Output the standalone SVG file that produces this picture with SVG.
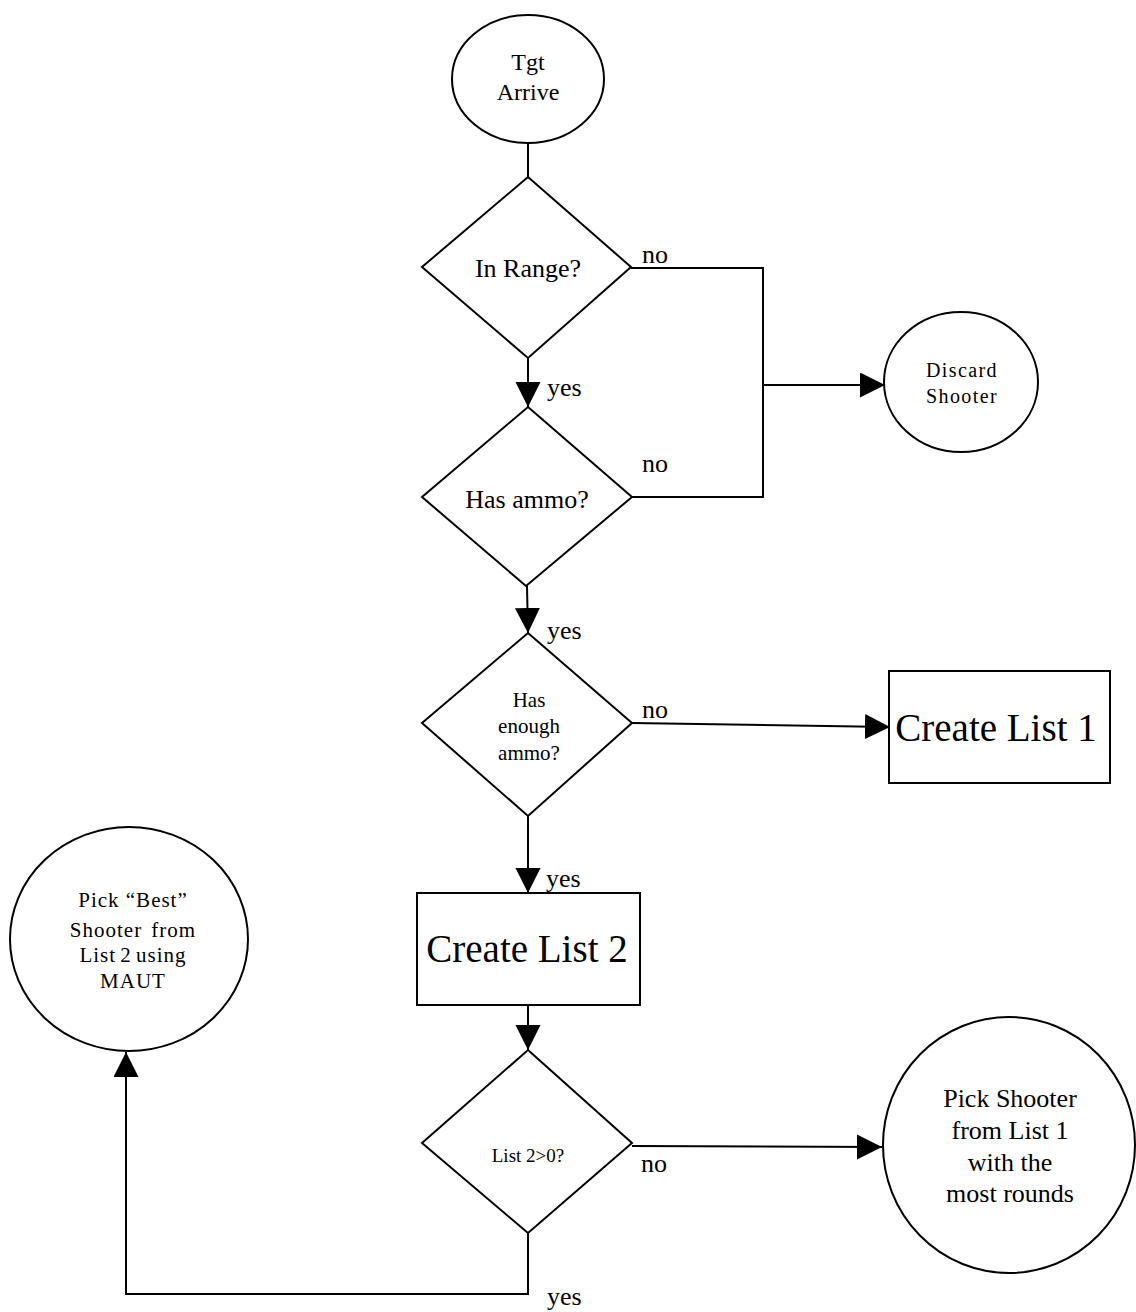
<svg xmlns="http://www.w3.org/2000/svg" width="1136" height="1312" viewBox="0 0 1136 1312">
<defs>
<style>
.shape{fill:#fff;stroke:#000;stroke-width:2}
.conn{fill:none;stroke:#000;stroke-width:2}
text{font-family:"Liberation Serif","Times New Roman",serif;fill:#000}
.c{text-anchor:middle}
.lbl{font-size:26px}
</style>
<marker id="arr" markerUnits="userSpaceOnUse" markerWidth="26" markerHeight="26" refX="25" refY="12.5" orient="auto">
<path d="M0,0 L25,12.5 L0,25 Z" fill="#000"/>
</marker>
</defs>
<rect width="1136" height="1312" fill="#fff"/>
<g id="connectors">
<line class="conn" x1="528" y1="143" x2="528" y2="177"/>
<line class="conn" x1="528" y1="358" x2="528" y2="407" marker-end="url(#arr)"/>
<path class="conn" d="M631,268 H763 V497 H632"/>
<line class="conn" x1="763" y1="385" x2="885" y2="385" marker-end="url(#arr)"/>
<line class="conn" x1="527" y1="586" x2="528" y2="633" marker-end="url(#arr)"/>
<line class="conn" x1="632" y1="723" x2="890" y2="727" marker-end="url(#arr)"/>
<line class="conn" x1="528" y1="816" x2="528" y2="893" marker-end="url(#arr)"/>
<line class="conn" x1="528" y1="1005" x2="528" y2="1050" marker-end="url(#arr)"/>
<line class="conn" x1="632" y1="1146" x2="882" y2="1147" marker-end="url(#arr)"/>
<path class="conn" d="M528,1233 V1294 H126 V1052" marker-end="url(#arr)"/>
<text class="lbl" x="642" y="263">no</text>
<text class="lbl" x="547" y="396">yes</text>
<text class="lbl" x="642" y="472">no</text>
<text class="lbl" x="547" y="639">yes</text>
<text class="lbl" x="642" y="718">no</text>
<text class="lbl" x="546" y="887">yes</text>
<text class="lbl" x="641" y="1172">no</text>
<text class="lbl" x="547" y="1305">yes</text>
</g>
<g id="tgt-arrive">
<ellipse class="shape" cx="528" cy="79" rx="76" ry="64"/>
<text class="c" x="528" y="70" font-size="24">Tgt</text>
<text class="c" x="528" y="100" font-size="24">Arrive</text>
</g>
<g id="in-range">
<polygon class="shape" points="528,177 631,267 528,358 422,267"/>
<text class="c" x="528" y="277" font-size="26">In Range?</text>
</g>
<g id="has-ammo">
<polygon class="shape" points="528,407 632,497 526,586 422,497"/>
<text class="c" x="527" y="508" font-size="26">Has ammo?</text>
</g>
<g id="discard-shooter">
<ellipse class="shape" cx="961" cy="382" rx="77" ry="70"/>
<text class="c" x="962" y="377" font-size="20" letter-spacing="1.4">Discard</text>
<text class="c" x="962" y="403" font-size="20" letter-spacing="1.4">Shooter</text>
</g>
<g id="has-enough-ammo">
<polygon class="shape" points="528,633 632,723 528,816 422,723"/>
<text class="c" x="529" y="707" font-size="21">Has</text>
<text class="c" x="529" y="733" font-size="21">enough</text>
<text class="c" x="529" y="760" font-size="21">ammo?</text>
</g>
<g id="create-list-1">
<rect class="shape" x="889" y="671" width="221" height="112"/>
<text class="c" x="996" y="741" font-size="39">Create List 1</text>
</g>
<g id="create-list-2">
<rect class="shape" x="417" y="893" width="223" height="112"/>
<text class="c" x="527" y="962" font-size="39">Create List 2</text>
</g>
<g id="list2-check">
<polygon class="shape" points="528,1050 632,1143 528,1233 422,1143"/>
<text class="c" x="528" y="1162" font-size="19">List 2&gt;0?</text>
</g>
<g id="pick-best">
<ellipse class="shape" cx="129" cy="939" rx="119" ry="112"/>
<text class="c" x="133" y="907" font-size="21" letter-spacing="1">Pick “Best”</text>
<text class="c" x="133" y="937" font-size="21" letter-spacing="1" word-spacing="3">Shooter from</text>
<text class="c" x="133" y="962" font-size="21" letter-spacing="1" word-spacing="-2">List 2 using</text>
<text class="c" x="133" y="988" font-size="21" letter-spacing="1">MAUT</text>
</g>
<g id="pick-shooter">
<ellipse class="shape" cx="1009" cy="1145" rx="126" ry="128"/>
<text class="c" x="1010" y="1107" font-size="26">Pick Shooter</text>
<text class="c" x="1010" y="1139" font-size="26">from List 1</text>
<text class="c" x="1010" y="1171" font-size="26">with the</text>
<text class="c" x="1010" y="1202" font-size="26">most rounds</text>
</g>
</svg>
